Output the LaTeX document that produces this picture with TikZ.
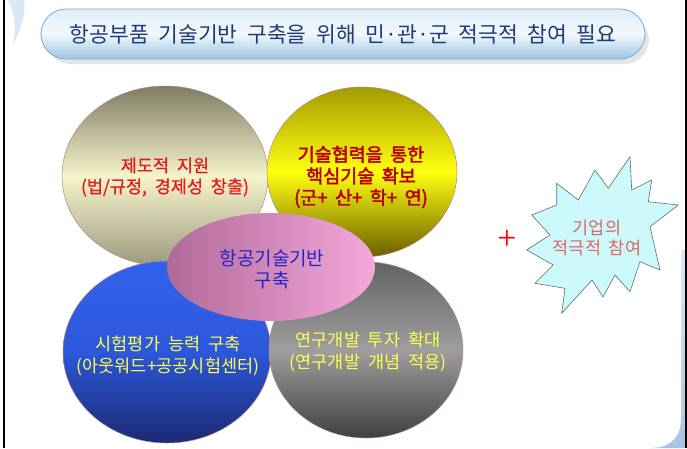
\documentclass[tikz,border=0pt]{standalone}
\usepackage{fontspec}
\newfontfamily\kr{Noto Sans CJK KR}[WordSpace=2]
\newfontfamily\krb{Noto Sans CJK KR}[FakeBold=2.5,WordSpace=1.8]
\newfontfamily\krm{Noto Sans CJK KR}[FakeBold=1,WordSpace=2]
\setmainfont{Liberation Serif}
\usetikzlibrary{shapes.geometric}
\definecolor{bgtop}{HTML}{7E7C62}
\definecolor{bgmid}{HTML}{F6F4CC}
\definecolor{bgbot}{HTML}{9C9A7E}
\definecolor{yltop}{HTML}{A39B00}
\definecolor{ylmid}{HTML}{FFFF10}
\definecolor{ylbot}{HTML}{6A5E00}
\definecolor{bltop}{HTML}{3262EC}
\definecolor{blmid}{HTML}{2C58DA}
\definecolor{blbot}{HTML}{1B2A72}
\definecolor{grtop}{HTML}{636363}
\definecolor{grmid}{HTML}{9E9E9E}
\definecolor{grbot}{HTML}{404040}
\definecolor{pkleft}{HTML}{B06A98}
\definecolor{pkright}{HTML}{F4A8DA}
\definecolor{edgec}{HTML}{B08888}
\definecolor{redtxt}{HTML}{E02020}
\definecolor{dredtxt}{HTML}{B80000}
\definecolor{yeltxt}{HTML}{FFFF50}
\definecolor{bluetxt}{HTML}{2424C8}
\definecolor{titletxt}{HTML}{1F3C7A}
\definecolor{pilltop}{HTML}{E0EEF8}
\definecolor{pillmid}{HTML}{F2F8FC}
\definecolor{pillbot}{HTML}{9EC4E2}
\definecolor{pilledge}{HTML}{86AED2}
\definecolor{burstfill}{HTML}{CCFAFA}
\definecolor{burstedge}{HTML}{5F6F70}
\definecolor{bursttxt}{HTML}{E06464}
\definecolor{decoblue}{HTML}{A9C3E6}
\definecolor{decolight}{HTML}{DCE7F5}
\begin{document}
\begin{tikzpicture}[x=1pt,y=-1pt,
  blob/.style={ellipse, inner sep=0pt, align=center, draw=edgec, line width=0.5pt},
  lbl/.style={align=center, inner sep=0pt}]
\useasboundingbox (0,0) rectangle (687,448);
\fill[white] (0,0) rectangle (687,448);
% decorations
\fill[decolight] (8,0) .. controls (14,14) and (18,28) .. (12,46) .. controls (22,30) and (26,12) .. (24,0) -- cycle;
\shade[top color=decolight, bottom color=decoblue] (681,250) -- (681,418) .. controls (681,440) and (668,448) .. (650,448) -- (686,448) -- (686,250) -- cycle;
\draw[black, line width=2.2pt] (4,0) -- (4,448);
\draw[black, line width=2pt] (686,0) -- (686,448);
% title pill
\fill[gray!35, opacity=0.6, rounded corners=25pt] (46,16) rectangle (649,64);
\node[rounded corners=25pt, minimum width=604pt, minimum height=50pt, draw=pilledge, line width=0.9pt,
  top color=pilltop, bottom color=pillbot, middle color=pillmid, text=titletxt,
  font=\kr\fontsize{21.5}{24}\selectfont] (title) at (343,34) {항공부품 기술기반 구축을 위해 민·관·군 적극적 참여 필요};
% ellipses
\node[blob, minimum width=206pt, minimum height=180pt, top color=bgtop, bottom color=bgbot, middle color=bgmid] (inst) at (165,176) {};
\node[lbl, font=\krm\fontsize{17.5}{21}\selectfont, text=redtxt] (instlbl) at (165,177) {제도적 지원\\(법/규정, 경제성 창출)};
\node[blob, minimum width=190pt, minimum height=170pt, top color=yltop, bottom color=ylbot, middle color=ylmid] (coop) at (362,172) {};
\node[lbl, font=\krb\fontsize{18.5}{21.5}\selectfont, text=dredtxt] (cooplbl) at (361,177) {기술협력을 통한\\핵심기술 확보\\(군+ 산+ 학+ 연)};
\node[blob, minimum width=208pt, minimum height=182pt, top color=bltop, bottom color=blbot, middle color=blmid] (test) at (167,352) {};
\node[lbl, font=\kr\fontsize{17.5}{22}\selectfont, text=yeltxt] (testlbl) at (168,356) {시험평가 능력 구축\\(아웃워드+공공시험센터)};
\node[blob, minimum width=194pt, minimum height=176pt, top color=grtop, bottom color=grbot, middle color=grmid] (rnd) at (366,350) {};
\node[lbl, font=\kr\fontsize{17.5}{22}\selectfont, text=yeltxt] (rndlbl) at (368,352) {연구개발 투자 확대\\(연구개발 개념 적용)};
\node[blob, draw=none, minimum width=208pt, minimum height=108pt, left color=pkleft, right color=pkright] (core) at (271,267) {};
\node[lbl, text=bluetxt, font=\kr\fontsize{19}{22}\selectfont] (corelbl) at (272,269) {항공기술기반\\구축};
% plus
\node[text=red, font=\fontsize{34}{34}\selectfont, inner sep=0pt] (plus) at (507,240) {+};
% starburst
\draw[fill=burstfill, draw=burstedge, line width=0.6pt]
 (556.7,183.3) -- (578.3,200) -- (595,170) -- (608.3,188.3) -- (630,156.7) -- (631.7,190)
 -- (651.7,180) -- (648.3,201.7) -- (678.3,205) -- (650,226.7) -- (660,270) -- (640,261.7)
 -- (630,291.7) -- (615,275) -- (603,297) -- (592,280) -- (561.7,313.3) -- (565,288.3)
 -- (535,283.3) -- (553.3,265) -- (526.7,250) -- (550,235) -- (531.7,215) -- (556.7,205) -- cycle;
\node[lbl, text=bursttxt, font=\kr\fontsize{17.5}{20.5}\selectfont] (firm) at (597,238) {기업의\\적극적 참여};
\end{tikzpicture}
\end{document}
